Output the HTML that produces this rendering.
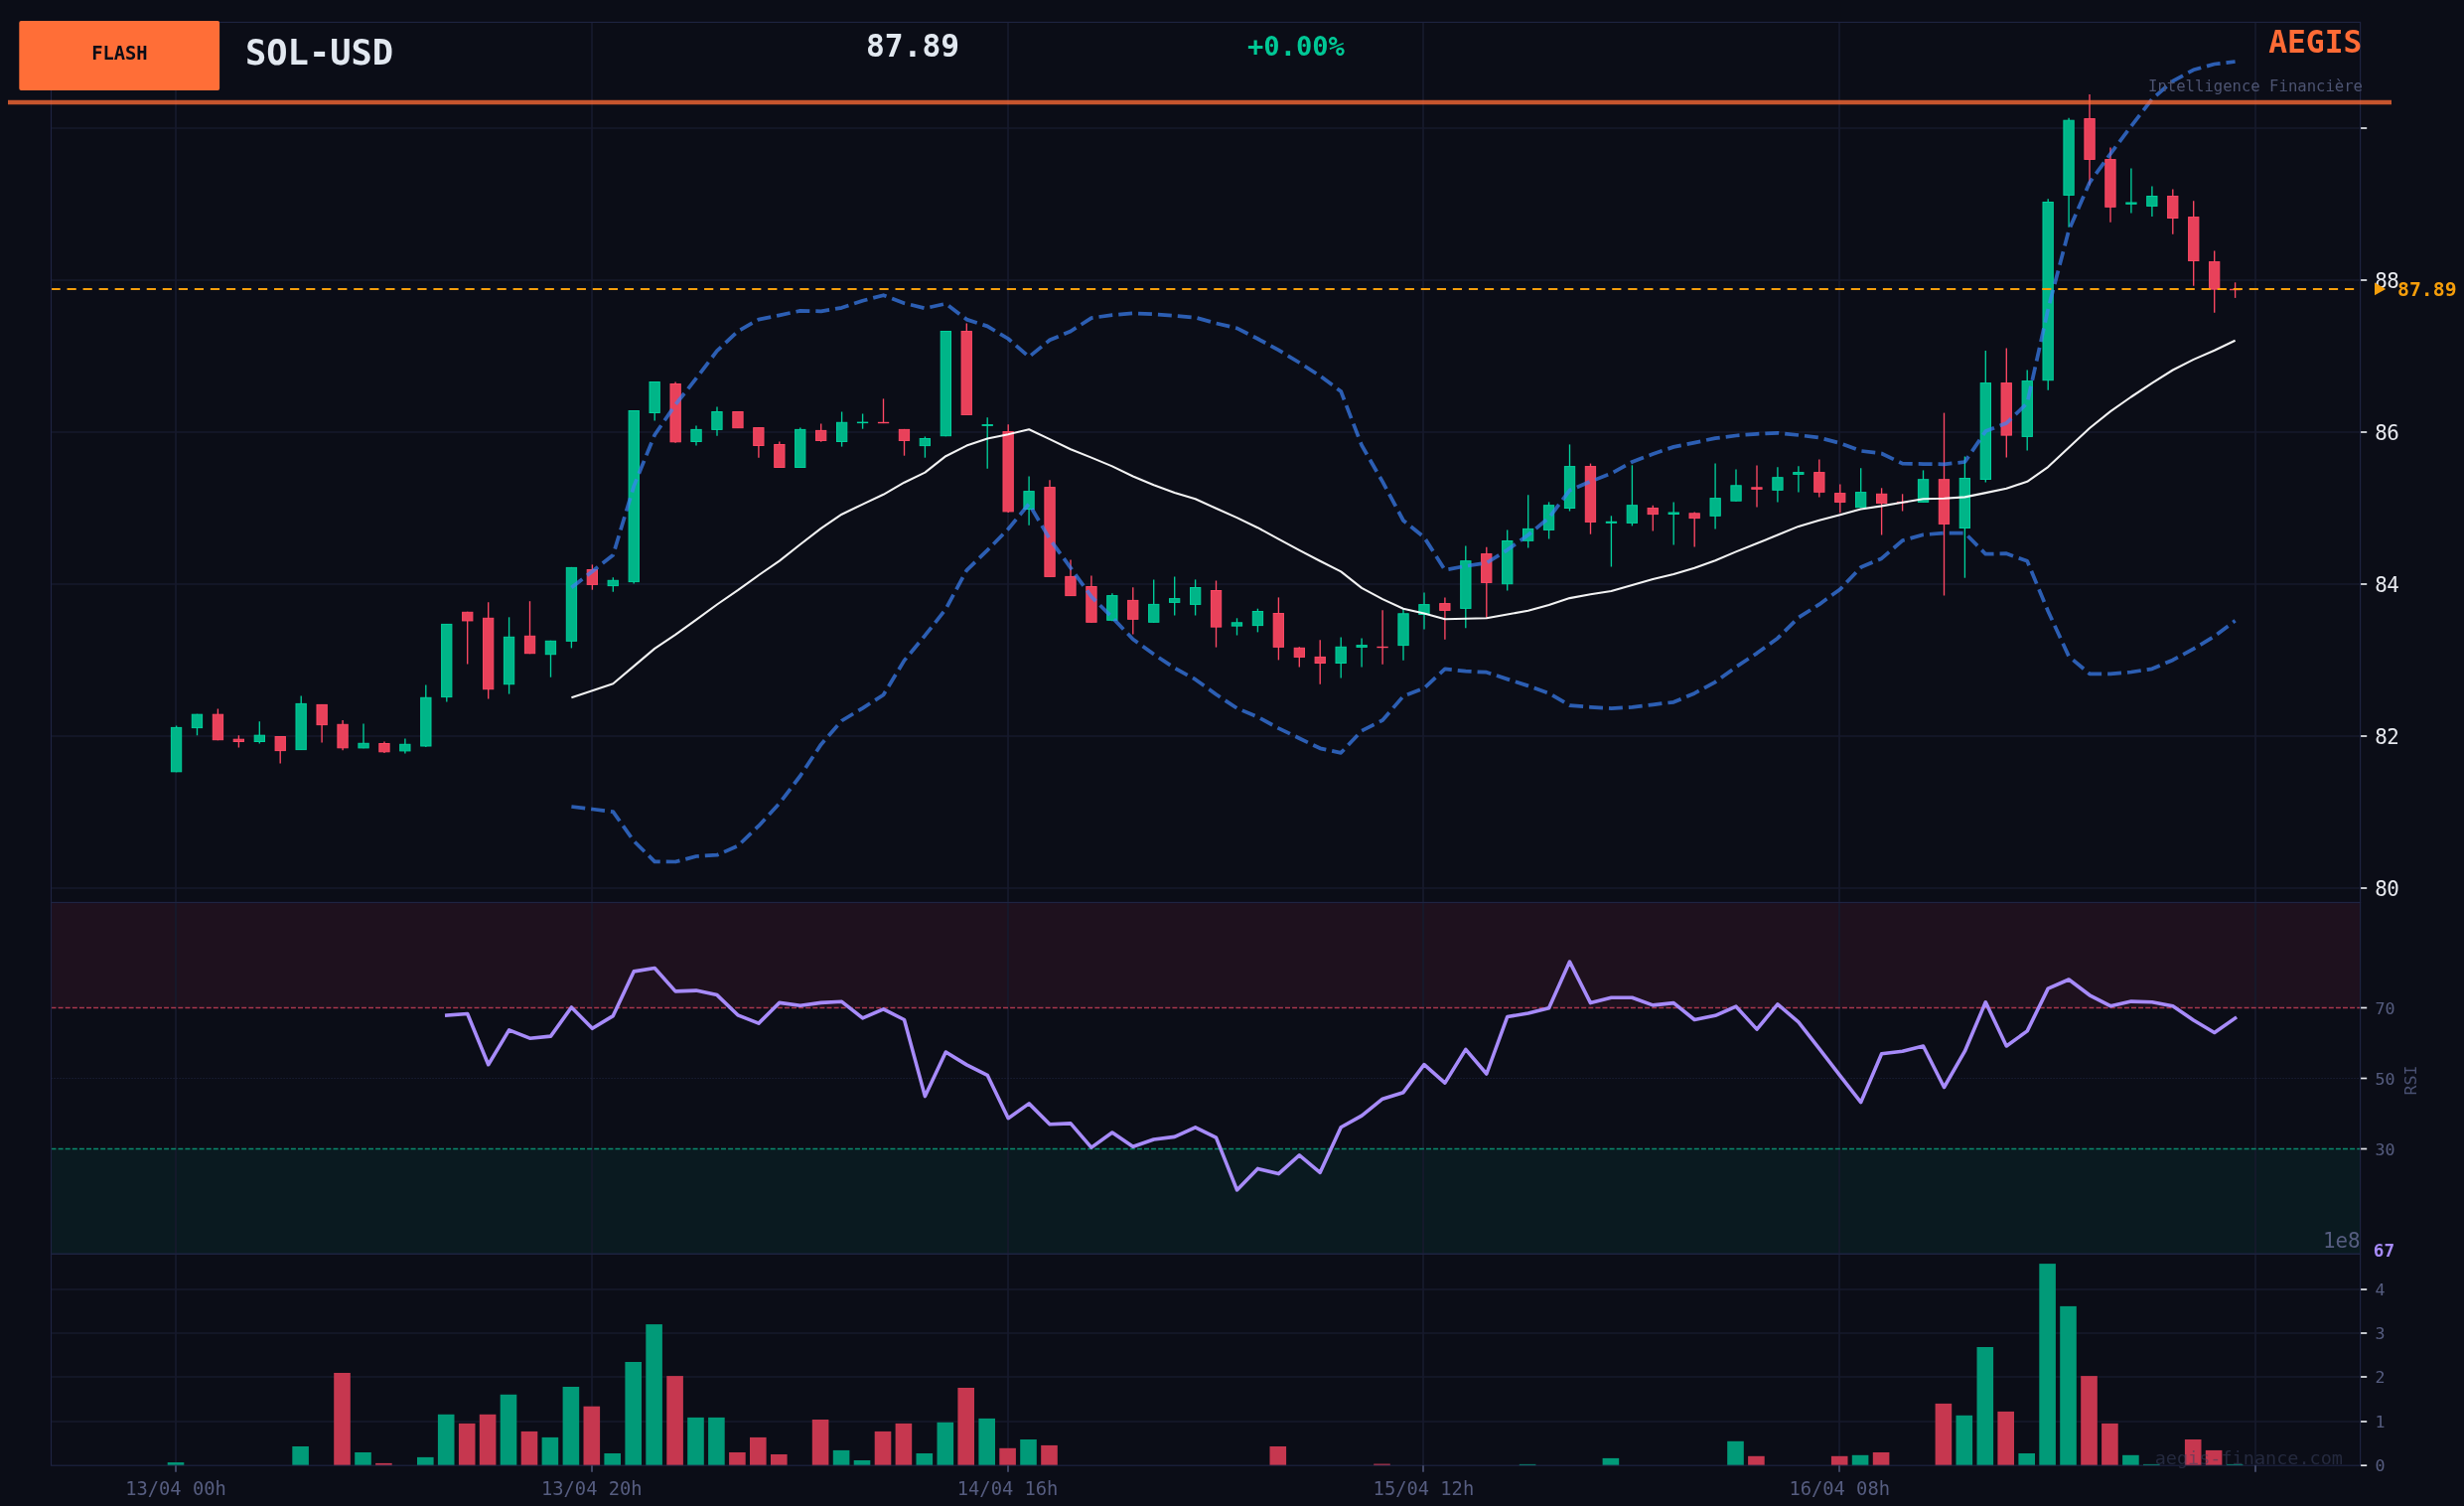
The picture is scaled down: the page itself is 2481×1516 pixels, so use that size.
<!DOCTYPE html>
<html lang="fr"><head><meta charset="utf-8"><title>SOL-USD FLASH - AEGIS</title>
<style>html,body{margin:0;padding:0;background:#0b0d17;}body{width:2481px;height:1516px;overflow:hidden;}svg{display:block;will-change:transform;}.m{font-family:"DejaVu Sans Mono", "Liberation Mono", monospace;}.s{font-family:"DejaVu Sans", "Liberation Sans", sans-serif;}.b{font-weight:bold;}</style></head><body>
<svg width="2481" height="1516" viewBox="0 0 2481 1516">
<rect width="2481" height="1516" fill="#0b0d17"/>
<defs>
<clipPath id="cp"><rect x="51.5" y="22.4" width="2325.1" height="886.1"/></clipPath>
<clipPath id="cr"><rect x="51.5" y="908.5" width="2325.1" height="353.8"/></clipPath>
</defs>
<rect x="51.5" y="908.5" width="2325.1" height="106" fill="#1e111e"/>
<rect x="51.5" y="1156.5" width="2325.1" height="105.8" fill="#0a1a20"/>
<g stroke="#171a2d" stroke-width="1.7" fill="none">
<line x1="177" y1="22.4" x2="177" y2="1475.2"/>
<line x1="596" y1="22.4" x2="596" y2="1475.2"/>
<line x1="1015" y1="22.4" x2="1015" y2="1475.2"/>
<line x1="1433" y1="22.4" x2="1433" y2="1475.2"/>
<line x1="1852" y1="22.4" x2="1852" y2="1475.2"/>
<line x1="2271" y1="22.4" x2="2271" y2="1475.2"/>
<line x1="51.5" y1="894" x2="2376.6" y2="894"/>
<line x1="51.5" y1="741" x2="2376.6" y2="741"/>
<line x1="51.5" y1="588" x2="2376.6" y2="588"/>
<line x1="51.5" y1="435" x2="2376.6" y2="435"/>
<line x1="51.5" y1="282" x2="2376.6" y2="282"/>
<line x1="51.5" y1="129" x2="2376.6" y2="129"/>
<line x1="51.5" y1="1431" x2="2376.6" y2="1431"/>
<line x1="51.5" y1="1386" x2="2376.6" y2="1386"/>
<line x1="51.5" y1="1342" x2="2376.6" y2="1342"/>
<line x1="51.5" y1="1298" x2="2376.6" y2="1298"/>
</g>
<line x1="51.5" y1="1085.5" x2="2376.6" y2="1085.5" stroke="#21253e" stroke-width="1.1" stroke-dasharray="1.1 1.9"/>
<line x1="51.5" y1="1014.5" x2="2376.6" y2="1014.5" stroke="#a8374e" stroke-width="1.4" stroke-dasharray="5 2.1"/>
<line x1="51.5" y1="1156.5" x2="2376.6" y2="1156.5" stroke="#0b8a6d" stroke-width="1.4" stroke-dasharray="5 2.1"/>
<g>
<rect x="168.7" y="1472.1" width="16.6" height="3.1" fill="#019a78"/>
<rect x="294.3" y="1456" width="16.6" height="19.2" fill="#019a78"/>
<rect x="336.2" y="1382" width="16.6" height="93.2" fill="#c6374f"/>
<rect x="357.2" y="1462" width="16.6" height="13.2" fill="#019a78"/>
<rect x="378.1" y="1472.9" width="16.6" height="2.3" fill="#c6374f"/>
<rect x="420" y="1466.9" width="16.6" height="8.3" fill="#019a78"/>
<rect x="440.9" y="1423.8" width="16.6" height="51.4" fill="#019a78"/>
<rect x="461.9" y="1432.9" width="16.6" height="42.3" fill="#c6374f"/>
<rect x="482.8" y="1423.8" width="16.6" height="51.4" fill="#c6374f"/>
<rect x="503.7" y="1403.8" width="16.6" height="71.4" fill="#019a78"/>
<rect x="524.7" y="1440.9" width="16.6" height="34.3" fill="#c6374f"/>
<rect x="545.6" y="1446.9" width="16.6" height="28.3" fill="#019a78"/>
<rect x="566.6" y="1396" width="16.6" height="79.2" fill="#019a78"/>
<rect x="587.5" y="1415.7" width="16.6" height="59.5" fill="#c6374f"/>
<rect x="608.4" y="1463" width="16.6" height="12.2" fill="#019a78"/>
<rect x="629.4" y="1371" width="16.6" height="104.2" fill="#019a78"/>
<rect x="650.3" y="1333.1" width="16.6" height="142.1" fill="#019a78"/>
<rect x="671.3" y="1385.1" width="16.6" height="90.1" fill="#c6374f"/>
<rect x="692.2" y="1426.9" width="16.6" height="48.3" fill="#019a78"/>
<rect x="713.1" y="1426.9" width="16.6" height="48.3" fill="#019a78"/>
<rect x="734.1" y="1462" width="16.6" height="13.2" fill="#c6374f"/>
<rect x="755" y="1446.9" width="16.6" height="28.3" fill="#c6374f"/>
<rect x="776" y="1464" width="16.6" height="11.2" fill="#c6374f"/>
<rect x="817.8" y="1429" width="16.6" height="46.2" fill="#c6374f"/>
<rect x="838.8" y="1459.9" width="16.6" height="15.3" fill="#019a78"/>
<rect x="859.7" y="1470" width="16.6" height="5.2" fill="#019a78"/>
<rect x="880.7" y="1440.9" width="16.6" height="34.3" fill="#c6374f"/>
<rect x="901.6" y="1432.9" width="16.6" height="42.3" fill="#c6374f"/>
<rect x="922.5" y="1463" width="16.6" height="12.2" fill="#019a78"/>
<rect x="943.5" y="1431.8" width="16.6" height="43.4" fill="#019a78"/>
<rect x="964.4" y="1397" width="16.6" height="78.2" fill="#c6374f"/>
<rect x="985.4" y="1427.9" width="16.6" height="47.3" fill="#019a78"/>
<rect x="1006.3" y="1457.8" width="16.6" height="17.4" fill="#c6374f"/>
<rect x="1027.2" y="1449" width="16.6" height="26.2" fill="#019a78"/>
<rect x="1048.2" y="1454.9" width="16.6" height="20.3" fill="#c6374f"/>
<rect x="1278.5" y="1456" width="16.6" height="19.2" fill="#c6374f"/>
<rect x="1383.2" y="1473.6" width="16.6" height="1.6" fill="#c6374f"/>
<rect x="1529.8" y="1473.9" width="16.6" height="1.3" fill="#019a78"/>
<rect x="1613.6" y="1467.9" width="16.6" height="7.3" fill="#019a78"/>
<rect x="1739.2" y="1450.8" width="16.6" height="24.4" fill="#019a78"/>
<rect x="1760.1" y="1465.8" width="16.6" height="9.4" fill="#c6374f"/>
<rect x="1843.9" y="1465.8" width="16.6" height="9.4" fill="#c6374f"/>
<rect x="1864.8" y="1464.8" width="16.6" height="10.4" fill="#019a78"/>
<rect x="1885.8" y="1462" width="16.6" height="13.2" fill="#c6374f"/>
<rect x="1948.6" y="1412.9" width="16.6" height="62.3" fill="#c6374f"/>
<rect x="1969.5" y="1424.8" width="16.6" height="50.4" fill="#019a78"/>
<rect x="1990.5" y="1356" width="16.6" height="119.2" fill="#019a78"/>
<rect x="2011.4" y="1420.9" width="16.6" height="54.3" fill="#c6374f"/>
<rect x="2032.4" y="1463" width="16.6" height="12.2" fill="#019a78"/>
<rect x="2053.3" y="1272.1" width="16.6" height="203.1" fill="#019a78"/>
<rect x="2074.2" y="1314.9" width="16.6" height="160.3" fill="#019a78"/>
<rect x="2095.2" y="1385.1" width="16.6" height="90.1" fill="#c6374f"/>
<rect x="2116.1" y="1432.9" width="16.6" height="42.3" fill="#c6374f"/>
<rect x="2137.1" y="1464.8" width="16.6" height="10.4" fill="#019a78"/>
<rect x="2158" y="1473.9" width="16.6" height="1.3" fill="#019a78"/>
<rect x="2199.9" y="1449" width="16.6" height="26.2" fill="#c6374f"/>
<rect x="2220.8" y="1459.9" width="16.6" height="15.3" fill="#c6374f"/>
<rect x="2241.8" y="1473.9" width="16.6" height="1.3" fill="#019a78"/>
</g>
<text class="m" x="2359" y="1473.9" font-size="18.5" text-anchor="end" fill="#3b415e" fill-opacity="0.55">aegis-finance.com</text>
<g clip-path="url(#cp)">
<line x1="177.6" y1="730.6" x2="177.6" y2="777.3" stroke="#00d09c" stroke-width="1.35"/>
<rect x="172.4" y="732.4" width="10.3" height="44.4" fill="#00b588" stroke="#00d09c" stroke-width="1"/>
<line x1="198.5" y1="718.7" x2="198.5" y2="740.2" stroke="#00d09c" stroke-width="1.35"/>
<rect x="193.3" y="719.2" width="10.3" height="13.4" fill="#00b588" stroke="#00d09c" stroke-width="1"/>
<line x1="219.4" y1="713.4" x2="219.4" y2="745.2" stroke="#ff4864" stroke-width="1.35"/>
<rect x="214.3" y="719.2" width="10.3" height="25.5" fill="#e8415a" stroke="#ff4864" stroke-width="1"/>
<line x1="240.4" y1="740.2" x2="240.4" y2="752.6" stroke="#ff4864" stroke-width="1.35"/>
<rect x="235.2" y="744.2" width="10.3" height="2.3" fill="#e8415a" stroke="#ff4864" stroke-width="1"/>
<line x1="261.3" y1="726.3" x2="261.3" y2="748.5" stroke="#00d09c" stroke-width="1.35"/>
<rect x="256.2" y="740.2" width="10.3" height="6.3" fill="#00b588" stroke="#00d09c" stroke-width="1"/>
<line x1="282.2" y1="741" x2="282.2" y2="768.5" stroke="#ff4864" stroke-width="1.35"/>
<rect x="277.1" y="741.5" width="10.3" height="14.1" fill="#e8415a" stroke="#ff4864" stroke-width="1"/>
<line x1="303.2" y1="700.6" x2="303.2" y2="755.1" stroke="#00d09c" stroke-width="1.35"/>
<rect x="298" y="708.4" width="10.3" height="46.2" fill="#00b588" stroke="#00d09c" stroke-width="1"/>
<line x1="324.1" y1="708.9" x2="324.1" y2="747.5" stroke="#ff4864" stroke-width="1.35"/>
<rect x="319" y="709.4" width="10.3" height="20.2" fill="#e8415a" stroke="#ff4864" stroke-width="1"/>
<line x1="345.1" y1="725.1" x2="345.1" y2="755.3" stroke="#ff4864" stroke-width="1.35"/>
<rect x="339.9" y="729.3" width="10.3" height="23.5" fill="#e8415a" stroke="#ff4864" stroke-width="1"/>
<line x1="366" y1="728.6" x2="366" y2="753.3" stroke="#00d09c" stroke-width="1.35"/>
<rect x="360.9" y="748.3" width="10.3" height="4.6" fill="#00b588" stroke="#00d09c" stroke-width="1"/>
<line x1="387" y1="746.5" x2="387" y2="757.9" stroke="#ff4864" stroke-width="1.35"/>
<rect x="381.8" y="748.5" width="10.3" height="8.3" fill="#e8415a" stroke="#ff4864" stroke-width="1"/>
<line x1="407.9" y1="743.5" x2="407.9" y2="758.6" stroke="#00d09c" stroke-width="1.35"/>
<rect x="402.7" y="749.3" width="10.3" height="6.6" fill="#00b588" stroke="#00d09c" stroke-width="1"/>
<line x1="428.8" y1="689.5" x2="428.8" y2="752.1" stroke="#00d09c" stroke-width="1.35"/>
<rect x="423.7" y="702.3" width="10.3" height="48.7" fill="#00b588" stroke="#00d09c" stroke-width="1"/>
<line x1="449.8" y1="627.9" x2="449.8" y2="706.6" stroke="#00d09c" stroke-width="1.35"/>
<rect x="444.6" y="628.4" width="10.3" height="73.2" fill="#00b588" stroke="#00d09c" stroke-width="1"/>
<line x1="470.7" y1="615.8" x2="470.7" y2="668.5" stroke="#ff4864" stroke-width="1.35"/>
<rect x="465.6" y="616.3" width="10.3" height="8.6" fill="#e8415a" stroke="#ff4864" stroke-width="1"/>
<line x1="491.7" y1="606.2" x2="491.7" y2="703.6" stroke="#ff4864" stroke-width="1.35"/>
<rect x="486.5" y="622.3" width="10.3" height="71.4" fill="#e8415a" stroke="#ff4864" stroke-width="1"/>
<line x1="512.6" y1="621.3" x2="512.6" y2="698.6" stroke="#00d09c" stroke-width="1.35"/>
<rect x="507.4" y="641.3" width="10.3" height="47.4" fill="#00b588" stroke="#00d09c" stroke-width="1"/>
<line x1="533.5" y1="605.2" x2="533.5" y2="658.2" stroke="#ff4864" stroke-width="1.35"/>
<rect x="528.4" y="640.3" width="10.3" height="17.4" fill="#e8415a" stroke="#ff4864" stroke-width="1"/>
<line x1="554.5" y1="644.8" x2="554.5" y2="681.7" stroke="#00d09c" stroke-width="1.35"/>
<rect x="549.3" y="645.3" width="10.3" height="13.4" fill="#00b588" stroke="#00d09c" stroke-width="1"/>
<line x1="575.4" y1="570.9" x2="575.4" y2="652.4" stroke="#00d09c" stroke-width="1.35"/>
<rect x="570.3" y="571.4" width="10.3" height="73.9" fill="#00b588" stroke="#00d09c" stroke-width="1"/>
<line x1="596.4" y1="568.4" x2="596.4" y2="593.7" stroke="#ff4864" stroke-width="1.35"/>
<rect x="591.2" y="573.5" width="10.3" height="14.9" fill="#e8415a" stroke="#ff4864" stroke-width="1"/>
<line x1="617.3" y1="581.3" x2="617.3" y2="595.7" stroke="#00d09c" stroke-width="1.35"/>
<rect x="612.1" y="584.3" width="10.3" height="5.3" fill="#00b588" stroke="#00d09c" stroke-width="1"/>
<line x1="638.2" y1="413" x2="638.2" y2="587.6" stroke="#00d09c" stroke-width="1.35"/>
<rect x="633.1" y="413.5" width="10.3" height="172.1" fill="#00b588" stroke="#00d09c" stroke-width="1"/>
<line x1="659.2" y1="384" x2="659.2" y2="423.6" stroke="#00d09c" stroke-width="1.35"/>
<rect x="654" y="384.5" width="10.3" height="31" fill="#00b588" stroke="#00d09c" stroke-width="1"/>
<line x1="680.1" y1="384.5" x2="680.1" y2="445.8" stroke="#ff4864" stroke-width="1.35"/>
<rect x="675" y="386.5" width="10.3" height="58.3" fill="#e8415a" stroke="#ff4864" stroke-width="1"/>
<line x1="701" y1="428.4" x2="701" y2="448.6" stroke="#00d09c" stroke-width="1.35"/>
<rect x="695.9" y="432.4" width="10.3" height="12.1" fill="#00b588" stroke="#00d09c" stroke-width="1"/>
<line x1="722" y1="409.4" x2="722" y2="438.7" stroke="#00d09c" stroke-width="1.35"/>
<rect x="716.8" y="414.5" width="10.3" height="17.9" fill="#00b588" stroke="#00d09c" stroke-width="1"/>
<line x1="742.9" y1="414" x2="742.9" y2="431.1" stroke="#ff4864" stroke-width="1.35"/>
<rect x="737.8" y="414.5" width="10.3" height="16.2" fill="#e8415a" stroke="#ff4864" stroke-width="1"/>
<line x1="763.9" y1="430.1" x2="763.9" y2="460.7" stroke="#ff4864" stroke-width="1.35"/>
<rect x="758.7" y="430.6" width="10.3" height="17.9" fill="#e8415a" stroke="#ff4864" stroke-width="1"/>
<line x1="784.8" y1="444.5" x2="784.8" y2="471" stroke="#ff4864" stroke-width="1.35"/>
<rect x="779.7" y="447.5" width="10.3" height="23" fill="#e8415a" stroke="#ff4864" stroke-width="1"/>
<line x1="805.8" y1="430.6" x2="805.8" y2="471" stroke="#00d09c" stroke-width="1.35"/>
<rect x="800.6" y="432.4" width="10.3" height="38.1" fill="#00b588" stroke="#00d09c" stroke-width="1"/>
<line x1="826.7" y1="426.4" x2="826.7" y2="444.8" stroke="#ff4864" stroke-width="1.35"/>
<rect x="821.5" y="433.4" width="10.3" height="10.1" fill="#e8415a" stroke="#ff4864" stroke-width="1"/>
<line x1="847.6" y1="414.5" x2="847.6" y2="449.6" stroke="#00d09c" stroke-width="1.35"/>
<rect x="842.5" y="425.3" width="10.3" height="19.2" fill="#00b588" stroke="#00d09c" stroke-width="1"/>
<line x1="868.6" y1="416.5" x2="868.6" y2="431.7" stroke="#00d09c" stroke-width="1.35"/>
<rect x="863.4" y="425.1" width="10.3" height="0.5" fill="#00b588" stroke="#00d09c" stroke-width="1"/>
<line x1="889.5" y1="401.4" x2="889.5" y2="426.1" stroke="#ff4864" stroke-width="1.35"/>
<rect x="884.4" y="425.3" width="10.3" height="0.4" fill="#e8415a" stroke="#ff4864" stroke-width="1"/>
<line x1="910.5" y1="431.9" x2="910.5" y2="458.7" stroke="#ff4864" stroke-width="1.35"/>
<rect x="905.3" y="432.4" width="10.3" height="11.1" fill="#e8415a" stroke="#ff4864" stroke-width="1"/>
<line x1="931.4" y1="439.5" x2="931.4" y2="460.7" stroke="#00d09c" stroke-width="1.35"/>
<rect x="926.2" y="441.5" width="10.3" height="7.1" fill="#00b588" stroke="#00d09c" stroke-width="1"/>
<line x1="952.3" y1="333" x2="952.3" y2="439.2" stroke="#00d09c" stroke-width="1.35"/>
<rect x="947.2" y="333.5" width="10.3" height="105.2" fill="#00b588" stroke="#00d09c" stroke-width="1"/>
<line x1="973.3" y1="325.4" x2="973.3" y2="418" stroke="#ff4864" stroke-width="1.35"/>
<rect x="968.1" y="333.5" width="10.3" height="84" fill="#e8415a" stroke="#ff4864" stroke-width="1"/>
<line x1="994.2" y1="420.3" x2="994.2" y2="471.8" stroke="#00d09c" stroke-width="1.35"/>
<rect x="989.1" y="427.6" width="10.3" height="0.8" fill="#00b588" stroke="#00d09c" stroke-width="1"/>
<line x1="1015.2" y1="427.3" x2="1015.2" y2="516.1" stroke="#ff4864" stroke-width="1.35"/>
<rect x="1010" y="434.6" width="10.3" height="80.3" fill="#e8415a" stroke="#ff4864" stroke-width="1"/>
<line x1="1036.1" y1="479.5" x2="1036.1" y2="528.7" stroke="#00d09c" stroke-width="1.35"/>
<rect x="1030.9" y="494.6" width="10.3" height="17.9" fill="#00b588" stroke="#00d09c" stroke-width="1"/>
<line x1="1057" y1="483.3" x2="1057" y2="580.9" stroke="#ff4864" stroke-width="1.35"/>
<rect x="1051.9" y="490.6" width="10.3" height="89.8" fill="#e8415a" stroke="#ff4864" stroke-width="1"/>
<line x1="1078" y1="563.5" x2="1078" y2="600.1" stroke="#ff4864" stroke-width="1.35"/>
<rect x="1072.8" y="580.4" width="10.3" height="19.2" fill="#e8415a" stroke="#ff4864" stroke-width="1"/>
<line x1="1098.9" y1="579.4" x2="1098.9" y2="626.8" stroke="#ff4864" stroke-width="1.35"/>
<rect x="1093.8" y="590.5" width="10.3" height="35.8" fill="#e8415a" stroke="#ff4864" stroke-width="1"/>
<line x1="1119.9" y1="597.3" x2="1119.9" y2="625.3" stroke="#00d09c" stroke-width="1.35"/>
<rect x="1114.7" y="599.6" width="10.3" height="24.7" fill="#00b588" stroke="#00d09c" stroke-width="1"/>
<line x1="1140.8" y1="591.3" x2="1140.8" y2="638.5" stroke="#ff4864" stroke-width="1.35"/>
<rect x="1135.6" y="604.4" width="10.3" height="18.9" fill="#e8415a" stroke="#ff4864" stroke-width="1"/>
<line x1="1161.7" y1="583.4" x2="1161.7" y2="626.8" stroke="#00d09c" stroke-width="1.35"/>
<rect x="1156.6" y="608.4" width="10.3" height="17.9" fill="#00b588" stroke="#00d09c" stroke-width="1"/>
<line x1="1182.7" y1="580.4" x2="1182.7" y2="619.5" stroke="#00d09c" stroke-width="1.35"/>
<rect x="1177.5" y="602.6" width="10.3" height="3.8" fill="#00b588" stroke="#00d09c" stroke-width="1"/>
<line x1="1203.6" y1="583.4" x2="1203.6" y2="619.5" stroke="#00d09c" stroke-width="1.35"/>
<rect x="1198.5" y="591.5" width="10.3" height="16.9" fill="#00b588" stroke="#00d09c" stroke-width="1"/>
<line x1="1224.5" y1="584.5" x2="1224.5" y2="651.6" stroke="#ff4864" stroke-width="1.35"/>
<rect x="1219.4" y="594.5" width="10.3" height="36.6" fill="#e8415a" stroke="#ff4864" stroke-width="1"/>
<line x1="1245.5" y1="622.3" x2="1245.5" y2="639.5" stroke="#00d09c" stroke-width="1.35"/>
<rect x="1240.3" y="626.8" width="10.3" height="3.3" fill="#00b588" stroke="#00d09c" stroke-width="1"/>
<line x1="1266.4" y1="612.7" x2="1266.4" y2="636.4" stroke="#00d09c" stroke-width="1.35"/>
<rect x="1261.3" y="615.5" width="10.3" height="14.1" fill="#00b588" stroke="#00d09c" stroke-width="1"/>
<line x1="1287.4" y1="601.4" x2="1287.4" y2="664.4" stroke="#ff4864" stroke-width="1.35"/>
<rect x="1282.2" y="617.5" width="10.3" height="33.8" fill="#e8415a" stroke="#ff4864" stroke-width="1"/>
<line x1="1308.3" y1="651.3" x2="1308.3" y2="671.5" stroke="#ff4864" stroke-width="1.35"/>
<rect x="1303.2" y="652.3" width="10.3" height="9.1" fill="#e8415a" stroke="#ff4864" stroke-width="1"/>
<line x1="1329.2" y1="644.3" x2="1329.2" y2="688.7" stroke="#ff4864" stroke-width="1.35"/>
<rect x="1324.1" y="661.4" width="10.3" height="6.1" fill="#e8415a" stroke="#ff4864" stroke-width="1"/>
<line x1="1350.2" y1="641.5" x2="1350.2" y2="682.6" stroke="#00d09c" stroke-width="1.35"/>
<rect x="1345" y="651.3" width="10.3" height="16.2" fill="#00b588" stroke="#00d09c" stroke-width="1"/>
<line x1="1371.1" y1="642.5" x2="1371.1" y2="671.5" stroke="#00d09c" stroke-width="1.35"/>
<rect x="1366" y="649.6" width="10.3" height="1.8" fill="#00b588" stroke="#00d09c" stroke-width="1"/>
<line x1="1392.1" y1="614.2" x2="1392.1" y2="668.7" stroke="#ff4864" stroke-width="1.35"/>
<rect x="1386.9" y="651.3" width="10.3" height="0.4" fill="#e8415a" stroke="#ff4864" stroke-width="1"/>
<line x1="1413" y1="613.2" x2="1413" y2="664.7" stroke="#00d09c" stroke-width="1.35"/>
<rect x="1407.9" y="617.8" width="10.3" height="31.8" fill="#00b588" stroke="#00d09c" stroke-width="1"/>
<line x1="1434" y1="596.5" x2="1434" y2="633.6" stroke="#00d09c" stroke-width="1.35"/>
<rect x="1428.8" y="608.6" width="10.3" height="9.9" fill="#00b588" stroke="#00d09c" stroke-width="1"/>
<line x1="1454.9" y1="601.5" x2="1454.9" y2="643.7" stroke="#ff4864" stroke-width="1.35"/>
<rect x="1449.7" y="607.6" width="10.3" height="6.8" fill="#e8415a" stroke="#ff4864" stroke-width="1"/>
<line x1="1475.8" y1="549.6" x2="1475.8" y2="632.3" stroke="#00d09c" stroke-width="1.35"/>
<rect x="1470.7" y="564.7" width="10.3" height="47.7" fill="#00b588" stroke="#00d09c" stroke-width="1"/>
<line x1="1496.8" y1="550.8" x2="1496.8" y2="621.7" stroke="#ff4864" stroke-width="1.35"/>
<rect x="1491.6" y="557.6" width="10.3" height="28.8" fill="#e8415a" stroke="#ff4864" stroke-width="1"/>
<line x1="1517.7" y1="533.4" x2="1517.7" y2="594.5" stroke="#00d09c" stroke-width="1.35"/>
<rect x="1512.6" y="544.5" width="10.3" height="43.2" fill="#00b588" stroke="#00d09c" stroke-width="1"/>
<line x1="1538.7" y1="498.3" x2="1538.7" y2="551.6" stroke="#00d09c" stroke-width="1.35"/>
<rect x="1533.5" y="532.4" width="10.3" height="11.9" fill="#00b588" stroke="#00d09c" stroke-width="1"/>
<line x1="1559.6" y1="505.4" x2="1559.6" y2="542.5" stroke="#00d09c" stroke-width="1.35"/>
<rect x="1554.4" y="508.7" width="10.3" height="24.7" fill="#00b588" stroke="#00d09c" stroke-width="1"/>
<line x1="1580.5" y1="447.4" x2="1580.5" y2="514.5" stroke="#00d09c" stroke-width="1.35"/>
<rect x="1575.4" y="469.6" width="10.3" height="41.9" fill="#00b588" stroke="#00d09c" stroke-width="1"/>
<line x1="1601.5" y1="466.6" x2="1601.5" y2="537.7" stroke="#ff4864" stroke-width="1.35"/>
<rect x="1596.3" y="469.6" width="10.3" height="55.8" fill="#e8415a" stroke="#ff4864" stroke-width="1"/>
<line x1="1622.4" y1="519.3" x2="1622.4" y2="570.5" stroke="#00d09c" stroke-width="1.35"/>
<rect x="1617.3" y="525.3" width="10.3" height="1" fill="#00b588" stroke="#00d09c" stroke-width="1"/>
<line x1="1643.4" y1="468.3" x2="1643.4" y2="529.4" stroke="#00d09c" stroke-width="1.35"/>
<rect x="1638.2" y="508.7" width="10.3" height="17.7" fill="#00b588" stroke="#00d09c" stroke-width="1"/>
<line x1="1664.3" y1="508.7" x2="1664.3" y2="534.4" stroke="#ff4864" stroke-width="1.35"/>
<rect x="1659.1" y="511.5" width="10.3" height="6.1" fill="#e8415a" stroke="#ff4864" stroke-width="1"/>
<line x1="1685.2" y1="505.4" x2="1685.2" y2="548.6" stroke="#00d09c" stroke-width="1.35"/>
<rect x="1680.1" y="516" width="10.3" height="1.5" fill="#00b588" stroke="#00d09c" stroke-width="1"/>
<line x1="1706.2" y1="515.5" x2="1706.2" y2="550.6" stroke="#ff4864" stroke-width="1.35"/>
<rect x="1701" y="516.8" width="10.3" height="4.8" fill="#e8415a" stroke="#ff4864" stroke-width="1"/>
<line x1="1727.1" y1="466.6" x2="1727.1" y2="532.4" stroke="#00d09c" stroke-width="1.35"/>
<rect x="1722" y="501.6" width="10.3" height="17.7" fill="#00b588" stroke="#00d09c" stroke-width="1"/>
<line x1="1748" y1="472.6" x2="1748" y2="504.7" stroke="#00d09c" stroke-width="1.35"/>
<rect x="1742.9" y="488.8" width="10.3" height="15.4" fill="#00b588" stroke="#00d09c" stroke-width="1"/>
<line x1="1769" y1="468.6" x2="1769" y2="510.5" stroke="#ff4864" stroke-width="1.35"/>
<rect x="1763.8" y="490.8" width="10.3" height="1.5" fill="#e8415a" stroke="#ff4864" stroke-width="1"/>
<line x1="1789.9" y1="470.3" x2="1789.9" y2="505.4" stroke="#00d09c" stroke-width="1.35"/>
<rect x="1784.8" y="480.7" width="10.3" height="12.6" fill="#00b588" stroke="#00d09c" stroke-width="1"/>
<line x1="1810.9" y1="469.3" x2="1810.9" y2="495.6" stroke="#00d09c" stroke-width="1.35"/>
<rect x="1805.7" y="475.6" width="10.3" height="1.8" fill="#00b588" stroke="#00d09c" stroke-width="1"/>
<line x1="1831.8" y1="462.5" x2="1831.8" y2="500.6" stroke="#ff4864" stroke-width="1.35"/>
<rect x="1826.7" y="475.6" width="10.3" height="19.7" fill="#e8415a" stroke="#ff4864" stroke-width="1"/>
<line x1="1852.8" y1="487.5" x2="1852.8" y2="516.3" stroke="#ff4864" stroke-width="1.35"/>
<rect x="1847.6" y="496.6" width="10.3" height="8.8" fill="#e8415a" stroke="#ff4864" stroke-width="1"/>
<line x1="1873.7" y1="471.3" x2="1873.7" y2="511.2" stroke="#00d09c" stroke-width="1.35"/>
<rect x="1868.5" y="495.6" width="10.3" height="15.1" fill="#00b588" stroke="#00d09c" stroke-width="1"/>
<line x1="1894.6" y1="491.3" x2="1894.6" y2="538.5" stroke="#ff4864" stroke-width="1.35"/>
<rect x="1889.5" y="497.3" width="10.3" height="9.1" fill="#e8415a" stroke="#ff4864" stroke-width="1"/>
<line x1="1915.6" y1="497.3" x2="1915.6" y2="514.5" stroke="#ff4864" stroke-width="1.35"/>
<rect x="1910.4" y="505.4" width="10.3" height="0.4" fill="#e8415a" stroke="#ff4864" stroke-width="1"/>
<line x1="1936.5" y1="473.4" x2="1936.5" y2="505.9" stroke="#00d09c" stroke-width="1.35"/>
<rect x="1931.4" y="482.7" width="10.3" height="22.7" fill="#00b588" stroke="#00d09c" stroke-width="1"/>
<line x1="1957.5" y1="415.6" x2="1957.5" y2="599.5" stroke="#ff4864" stroke-width="1.35"/>
<rect x="1952.3" y="482.7" width="10.3" height="44.7" fill="#e8415a" stroke="#ff4864" stroke-width="1"/>
<line x1="1978.4" y1="459.5" x2="1978.4" y2="581.7" stroke="#00d09c" stroke-width="1.35"/>
<rect x="1973.2" y="481.5" width="10.3" height="50" fill="#00b588" stroke="#00d09c" stroke-width="1"/>
<line x1="1999.3" y1="353.1" x2="1999.3" y2="485.5" stroke="#00d09c" stroke-width="1.35"/>
<rect x="1994.2" y="385.6" width="10.3" height="96.9" fill="#00b588" stroke="#00d09c" stroke-width="1"/>
<line x1="2020.3" y1="350.5" x2="2020.3" y2="460.6" stroke="#ff4864" stroke-width="1.35"/>
<rect x="2015.1" y="385.6" width="10.3" height="52.5" fill="#e8415a" stroke="#ff4864" stroke-width="1"/>
<line x1="2041.2" y1="372.5" x2="2041.2" y2="453.5" stroke="#00d09c" stroke-width="1.35"/>
<rect x="2036.1" y="383.6" width="10.3" height="55.8" fill="#00b588" stroke="#00d09c" stroke-width="1"/>
<line x1="2062.2" y1="200.2" x2="2062.2" y2="392.8" stroke="#00d09c" stroke-width="1.35"/>
<rect x="2057" y="203.5" width="10.3" height="179.2" fill="#00b588" stroke="#00d09c" stroke-width="1"/>
<line x1="2083.1" y1="118.7" x2="2083.1" y2="228.7" stroke="#00d09c" stroke-width="1.35"/>
<rect x="2077.9" y="121.2" width="10.3" height="75.2" fill="#00b588" stroke="#00d09c" stroke-width="1"/>
<line x1="2104" y1="95" x2="2104" y2="186.4" stroke="#ff4864" stroke-width="1.35"/>
<rect x="2098.9" y="119.5" width="10.3" height="40.9" fill="#e8415a" stroke="#ff4864" stroke-width="1"/>
<line x1="2125" y1="148.5" x2="2125" y2="223.7" stroke="#ff4864" stroke-width="1.35"/>
<rect x="2119.8" y="160.6" width="10.3" height="47.7" fill="#e8415a" stroke="#ff4864" stroke-width="1"/>
<line x1="2145.9" y1="169.4" x2="2145.9" y2="214.6" stroke="#00d09c" stroke-width="1.35"/>
<rect x="2140.8" y="204" width="10.3" height="1.3" fill="#00b588" stroke="#00d09c" stroke-width="1"/>
<line x1="2166.9" y1="187.4" x2="2166.9" y2="217.9" stroke="#00d09c" stroke-width="1.35"/>
<rect x="2161.7" y="197.5" width="10.3" height="9.9" fill="#00b588" stroke="#00d09c" stroke-width="1"/>
<line x1="2187.8" y1="190.4" x2="2187.8" y2="235.8" stroke="#ff4864" stroke-width="1.35"/>
<rect x="2182.6" y="197.5" width="10.3" height="22" fill="#e8415a" stroke="#ff4864" stroke-width="1"/>
<line x1="2208.7" y1="202.3" x2="2208.7" y2="287.8" stroke="#ff4864" stroke-width="1.35"/>
<rect x="2203.6" y="218.6" width="10.3" height="43.9" fill="#e8415a" stroke="#ff4864" stroke-width="1"/>
<line x1="2229.7" y1="252.5" x2="2229.7" y2="314.8" stroke="#ff4864" stroke-width="1.35"/>
<rect x="2224.5" y="263.6" width="10.3" height="27.5" fill="#e8415a" stroke="#ff4864" stroke-width="1"/>
<line x1="2250.6" y1="284.3" x2="2250.6" y2="299.9" stroke="#ff4864" stroke-width="1.35"/>
<rect x="2245.5" y="291.3" width="10.3" height="0.4" fill="#e8415a" stroke="#ff4864" stroke-width="1"/>
<line x1="51.5" y1="290.9" x2="2376.6" y2="290.9" stroke="#f59e0b" stroke-width="2" stroke-dasharray="9.2 6.838"/>
<path d="M575.4 591.6 L596.4 575.2 L617.3 558.8 L638.2 489.4 L659.2 437.7 L680.1 407.4 L701 380.9 L722 353.2 L742.9 333.5 L763.9 321.6 L784.8 317.3 L805.8 312.8 L826.7 313.3 L847.6 309.8 L868.6 302.7 L889.5 297.2 L910.5 305.2 L931.4 310.3 L952.3 305.7 L973.3 321.6 L994.2 328.4 L1015.2 341 L1036.1 359.2 L1057 342.3 L1078 333.5 L1098.9 320.1 L1119.9 317.1 L1140.8 315.3 L1161.7 316.3 L1182.7 317.8 L1203.6 319.6 L1224.5 325.4 L1245.5 330.4 L1266.4 341 L1287.4 352.4 L1308.3 365 L1329.2 378.4 L1350.2 394 L1371.1 448.3 L1392.1 484.9 L1413 524 L1434 540.9 L1454.9 573.7 L1475.8 569.8 L1496.8 566.7 L1517.7 553.6 L1538.7 538.5 L1559.6 521.3 L1580.5 493.6 L1601.5 484.7 L1622.4 476.6 L1643.4 465 L1664.3 457 L1685.2 449.9 L1706.2 445.6 L1727.1 441.1 L1748 438.5 L1769 436.8 L1789.9 435.8 L1810.9 438 L1831.8 440.6 L1852.8 446.1 L1873.7 453.9 L1894.6 456.5 L1915.6 466.6 L1936.5 467.1 L1957.5 467.3 L1978.4 465 L1999.3 434.1 L2020.3 426 L2041.2 405.8 L2062.2 311.3 L2083.1 231.8 L2104 183.8 L2125 154.8 L2145.9 127.1 L2166.9 99.8 L2187.8 81.6 L2208.7 70.3 L2229.7 64.5 L2250.6 62" fill="none" stroke="#3b82f6" stroke-opacity="0.7" stroke-width="3.75" stroke-dasharray="13.9 6" stroke-linejoin="round"/>
<path d="M575.4 812 L596.4 814.5 L617.3 817.1 L638.2 846.6 L659.2 867.3 L680.1 867.5 L701 862 L722 860.7 L742.9 851.6 L763.9 831.4 L784.8 808.7 L805.8 781 L826.7 749.4 L847.6 725.5 L868.6 712.8 L889.5 699.5 L910.5 664.9 L931.4 639.7 L952.3 613.2 L973.3 574.1 L994.2 553.9 L1015.2 532.5 L1036.1 507.2 L1057 542.6 L1078 571.6 L1098.9 600.6 L1119.9 621.5 L1140.8 643.5 L1161.7 658.6 L1182.7 672.5 L1203.6 683.9 L1224.5 699 L1245.5 712.9 L1266.4 721.7 L1287.4 733.1 L1308.3 743.2 L1329.2 753.3 L1350.2 757.8 L1371.1 735.6 L1392.1 725 L1413 700.8 L1434 692.7 L1454.9 673.3 L1475.8 675.7 L1496.8 676.7 L1517.7 683.6 L1538.7 690.4 L1559.6 697.9 L1580.5 710.1 L1601.5 711.8 L1622.4 713.1 L1643.4 711.8 L1664.3 709.3 L1685.2 706.8 L1706.2 697.9 L1727.1 686.6 L1748 671.4 L1769 657.6 L1789.9 642.4 L1810.9 621.7 L1831.8 608.4 L1852.8 593.2 L1873.7 571.1 L1894.6 562.2 L1915.6 544.1 L1936.5 538.3 L1957.5 536.5 L1978.4 536.5 L1999.3 557.7 L2020.3 557.2 L2041.2 564.8 L2062.2 615.2 L2083.1 660.7 L2104 678.3 L2125 678.3 L2145.9 676.5 L2166.9 673.3 L2187.8 664.4 L2208.7 653.1 L2229.7 640.5 L2250.6 624.8" fill="none" stroke="#3b82f6" stroke-opacity="0.7" stroke-width="3.75" stroke-dasharray="13.9 6" stroke-linejoin="round"/>
<path d="M575.4 702.3 L596.4 695.3 L617.3 688.2 L638.2 670.6 L659.2 652.9 L680.1 638.8 L701 623.9 L722 608.5 L742.9 594.2 L763.9 579 L784.8 564.6 L805.8 548 L826.7 531.8 L847.6 517.7 L868.6 507.6 L889.5 497.8 L910.5 485.7 L931.4 475.6 L952.3 459.2 L973.3 448.6 L994.2 441.5 L1015.2 437.2 L1036.1 432.3 L1057 442.1 L1078 452.2 L1098.9 460.6 L1119.9 469.4 L1140.8 479.5 L1161.7 488.3 L1182.7 495.9 L1203.6 502.2 L1224.5 511.8 L1245.5 521.1 L1266.4 531.2 L1287.4 542.6 L1308.3 553.9 L1329.2 564.8 L1350.2 575.4 L1371.1 591.8 L1392.1 603.1 L1413 612.7 L1434 617.5 L1454.9 623.3 L1475.8 622.7 L1496.8 622.2 L1517.7 618.5 L1538.7 614.7 L1559.6 608.9 L1580.5 602.1 L1601.5 598.3 L1622.4 595 L1643.4 588.9 L1664.3 583.1 L1685.2 578.1 L1706.2 571.8 L1727.1 564.2 L1748 555.4 L1769 547 L1789.9 538.5 L1810.9 529.9 L1831.8 523.8 L1852.8 518.3 L1873.7 512.5 L1894.6 509.4 L1915.6 505.7 L1936.5 502.2 L1957.5 501.7 L1978.4 500.4 L1999.3 496.1 L2020.3 491.8 L2041.2 484.8 L2062.2 470.1 L2083.1 450.5 L2104 431 L2125 414.1 L2145.9 399.5 L2166.9 385.6 L2187.8 372.5 L2208.7 361.9 L2229.7 352.8 L2250.6 342.7" fill="none" stroke="#ffffff" stroke-opacity="0.95" stroke-width="2.1" stroke-linejoin="round"/>
</g>
<g clip-path="url(#cr)"><path d="M449.8 1022.1 L470.7 1020.5 L491.7 1071.7 L512.6 1036.9 L533.5 1045.2 L554.5 1043.1 L575.4 1014 L596.4 1035.3 L617.3 1022.6 L638.2 977.9 L659.2 974.5 L680.1 997.9 L701 997.1 L722 1001.6 L742.9 1021.8 L763.9 1030.1 L784.8 1009.4 L805.8 1012.2 L826.7 1009.4 L847.6 1008.3 L868.6 1024.9 L889.5 1015.8 L910.5 1026.5 L931.4 1103.6 L952.3 1059 L973.3 1071.9 L994.2 1082.3 L1015.2 1125.7 L1036.1 1110.9 L1057 1131.7 L1078 1130.9 L1098.9 1155.1 L1119.9 1140 L1140.8 1154.3 L1161.7 1147 L1182.7 1144.4 L1203.6 1134.8 L1224.5 1145.2 L1245.5 1197.9 L1266.4 1176.4 L1287.4 1181.6 L1308.3 1162.9 L1329.2 1180.3 L1350.2 1134.8 L1371.1 1123.1 L1392.1 1106.2 L1413 1099.7 L1434 1071.7 L1454.9 1090.1 L1475.8 1056.4 L1496.8 1081 L1517.7 1023.6 L1538.7 1020 L1559.6 1014.8 L1580.5 968.1 L1601.5 1009.6 L1622.4 1004.2 L1643.4 1004.2 L1664.3 1011.9 L1685.2 1009.6 L1706.2 1026.5 L1727.1 1022.3 L1748 1013.2 L1769 1036.1 L1789.9 1010.9 L1810.9 1028.8 L1831.8 1055.6 L1852.8 1082.9 L1873.7 1109.6 L1894.6 1060.8 L1915.6 1058.2 L1936.5 1053 L1957.5 1094.5 L1978.4 1058.2 L1999.3 1008.8 L2020.3 1053 L2041.2 1037.9 L2062.2 995.1 L2083.1 986 L2104 1001.8 L2125 1012.7 L2145.9 1008.1 L2166.9 1008.8 L2187.8 1012.7 L2208.7 1027 L2229.7 1039.5 L2250.6 1024.9" fill="none" stroke="#a78bfa" stroke-width="3.6" stroke-linejoin="round" stroke-linecap="square"/></g>
<g stroke="#1e2442" stroke-width="1.15" fill="none">
<rect x="51.5" y="22.4" width="2325.1" height="886.1"/>
<rect x="51.5" y="908.5" width="2325.1" height="353.8"/>
<rect x="51.5" y="1262.3" width="2325.1" height="212.9"/>
</g>
<g stroke="#e6e8ee" stroke-width="1.7">
<line x1="2377.1" y1="894" x2="2383.2" y2="894"/>
<line x1="2377.1" y1="741" x2="2383.2" y2="741"/>
<line x1="2377.1" y1="588" x2="2383.2" y2="588"/>
<line x1="2377.1" y1="435" x2="2383.2" y2="435"/>
<line x1="2377.1" y1="282" x2="2383.2" y2="282"/>
<line x1="2377.1" y1="129" x2="2383.2" y2="129"/>
<line x1="2377.1" y1="1014.5" x2="2383.2" y2="1014.5"/>
<line x1="2377.1" y1="1085.5" x2="2383.2" y2="1085.5"/>
<line x1="2377.1" y1="1156.5" x2="2383.2" y2="1156.5"/>
<line x1="2377.1" y1="1431" x2="2383.2" y2="1431"/>
<line x1="2377.1" y1="1386" x2="2383.2" y2="1386"/>
<line x1="2377.1" y1="1342" x2="2383.2" y2="1342"/>
<line x1="2377.1" y1="1298" x2="2383.2" y2="1298"/>
<line x1="2377.1" y1="1475.2" x2="2383.2" y2="1475.2"/>
</g>
<g stroke="#4a5173" stroke-width="1.7">
<line x1="177" y1="1475.2" x2="177" y2="1481.8"/>
<line x1="596" y1="1475.2" x2="596" y2="1481.8"/>
<line x1="1015" y1="1475.2" x2="1015" y2="1481.8"/>
<line x1="1433" y1="1475.2" x2="1433" y2="1481.8"/>
<line x1="1852" y1="1475.2" x2="1852" y2="1481.8"/>
<line x1="2271" y1="1475.2" x2="2271" y2="1481.8"/>
</g>
<g class="m" font-size="20.83" fill="#e6e8ee">
<text x="2391.2" y="902.2" letter-spacing="-0.6">80</text>
<text x="2391.2" y="749.2" letter-spacing="-0.6">82</text>
<text x="2391.2" y="596.2" letter-spacing="-0.6">84</text>
<text x="2391.2" y="443.2" letter-spacing="-0.6">86</text>
<text x="2391.2" y="290.2" letter-spacing="-0.6">88</text>
</g>
<g class="m" font-size="16.67" fill="#565d80">
<text x="2391.6" y="1020.6">70</text>
<text x="2391.6" y="1091.6">50</text>
<text x="2391.6" y="1162.6">30</text>
<text x="2391.6" y="1481.3">0</text>
<text x="2391.6" y="1437.1">1</text>
<text x="2391.6" y="1392.1">2</text>
<text x="2391.6" y="1348.1">3</text>
<text x="2391.6" y="1304.1">4</text>
</g>
<text class="m" font-size="16.67" fill="#4a5173" text-anchor="middle" transform="translate(2433,1087.5) rotate(-90)">RSI</text>
<text class="m b" font-size="17.7" fill="#a78bfa" x="2389.8" y="1265">67</text>
<text class="m" font-size="20.83" fill="#565d80" x="2376.5" y="1256.1" text-anchor="end">1e8</text>
<g class="m" font-size="18.75" fill="#565d80" text-anchor="middle">
<text x="177" y="1505">13/04 00h</text>
<text x="595.8" y="1505">13/04 20h</text>
<text x="1014.6" y="1505">14/04 16h</text>
<text x="1433.4" y="1505">15/04 12h</text>
<text x="1852.2" y="1505">16/04 08h</text>
</g>
<path d="M2391 284.6 L2402.2 290.9 L2391 297.2 Z" fill="#f59e0b"/>
<text class="m b" font-size="19.8" fill="#f59e0b" x="2414" y="298">87.89</text>
<line x1="8" y1="103" x2="2408" y2="103" stroke="#ff6b35" stroke-opacity="0.77" stroke-width="4.3"/>
<rect x="19.3" y="21.1" width="201.8" height="69.9" rx="2" fill="#ff6e37"/>
<text class="m b" font-size="18.75" fill="#0b0d17" x="120.4" y="60" text-anchor="middle">FLASH</text>
<text class="m b" font-size="35.4" fill="#e2e8f0" x="247" y="65.3">SOL-USD</text>
<text class="m b" font-size="31.25" fill="#e2e8f0" x="919" y="56.6" text-anchor="middle">87.89</text>
<text class="m b" font-size="27.1" fill="#00c896" x="1305" y="55.5" text-anchor="middle">+0.00%</text>
<text class="m b" font-size="31.25" fill="#ff6b35" x="2378.3" y="53.4" text-anchor="end">AEGIS</text>
<text class="m" font-size="15.6" fill="#4d5472" x="2379" y="92.4" text-anchor="end">Intelligence Financière</text>
</svg></body></html>
